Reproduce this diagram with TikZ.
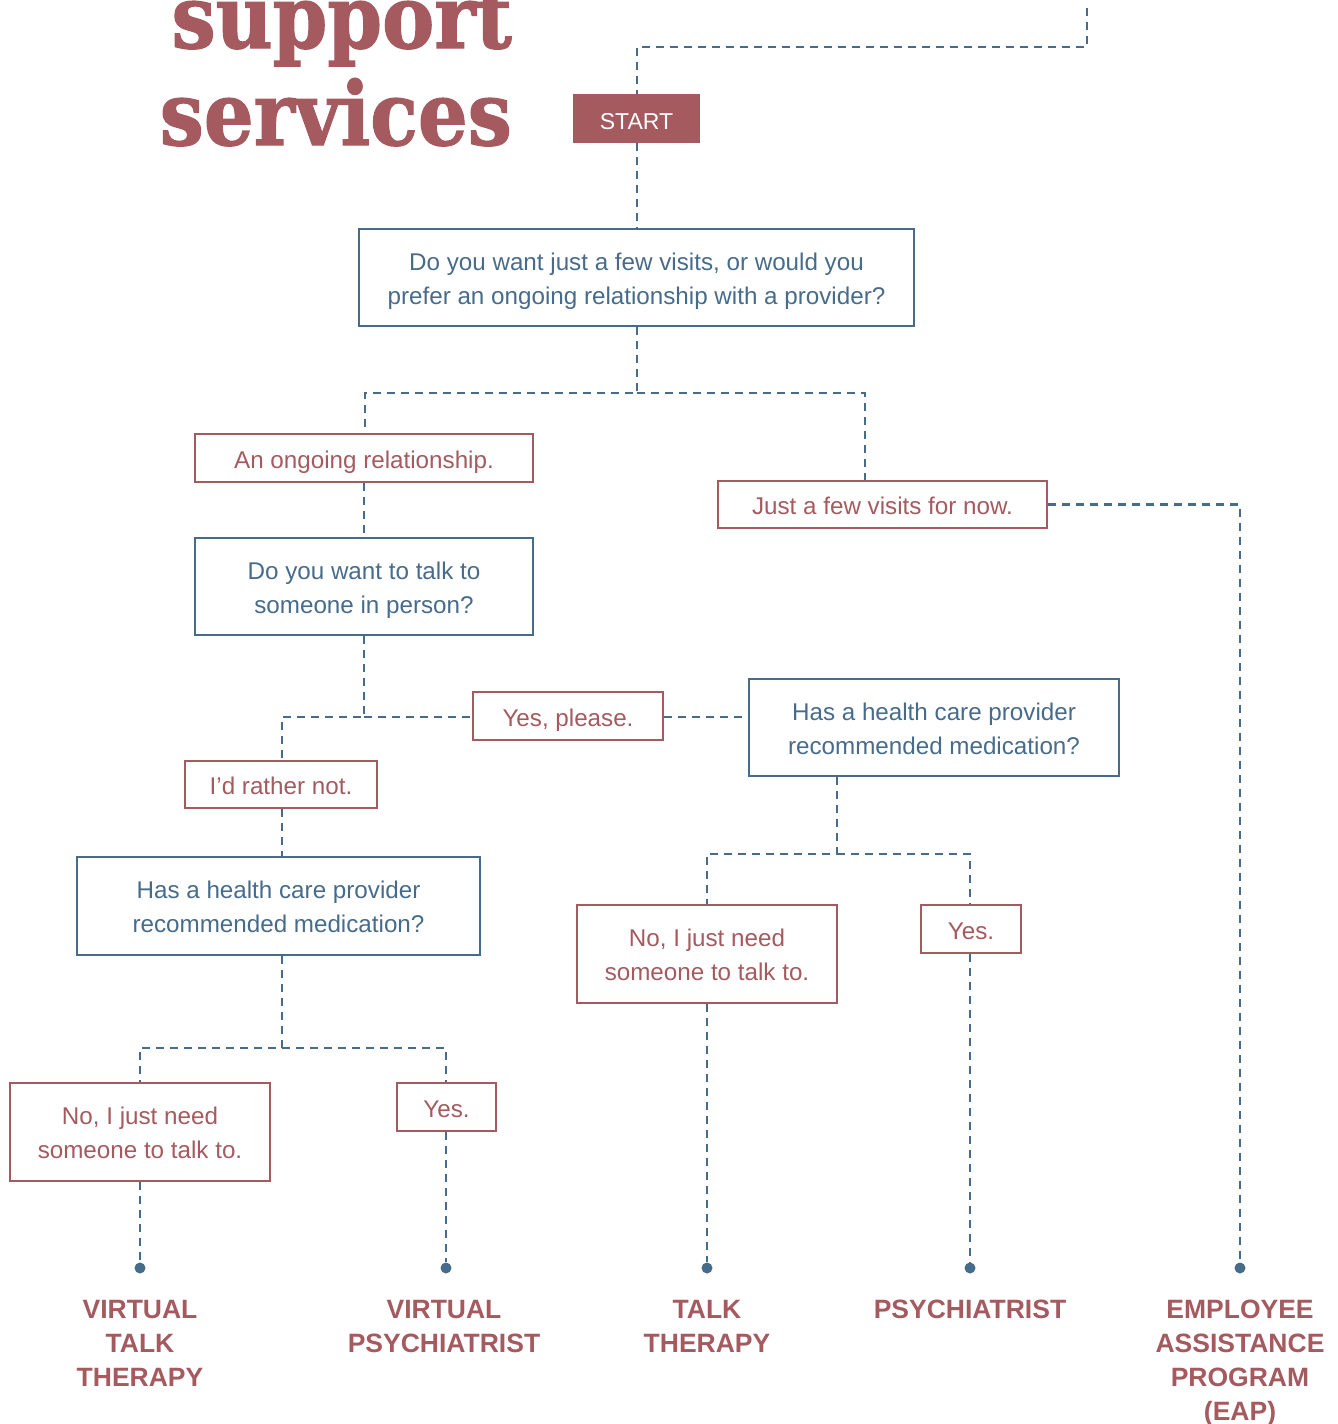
\documentclass[tikz,border=0pt]{standalone}
\usepackage{fontspec}
\setmainfont{Liberation Sans}
\newfontfamily\slabfont[BoldFeatures={FakeBold=1.5}]{DejaVu Serif}
\definecolor{rose}{HTML}{A45A5E}
\definecolor{slate}{HTML}{476B8A}
\tikzset{
  oneline/.style={text height=20pt, text depth=0pt},
  twoline/.style={text height=55pt, text depth=2pt},
  qbox/.style={draw=slate, line width=2.5pt, text=slate, align=center, inner sep=0pt,
    font=\fontsize{24.2}{34}\selectfont, twoline},
  abox/.style={draw=rose, line width=2pt, text=rose, align=center, inner sep=0pt,
    font=\fontsize{24.2}{34}\selectfont, oneline},
  link/.style={slate, line width=2.5pt, dash pattern=on 8pt off 6pt},
  dot/.style={circle, fill=slate, inner sep=0pt, minimum size=11pt},
  endlabel/.style={text=rose, align=center, anchor=north, inner sep=0pt,
    font=\bfseries\fontsize{26.5}{34}\selectfont}
}
\begin{document}
\begin{tikzpicture}[x=1pt, y=-1pt]
\useasboundingbox (0,0) rectangle (1338,1424);
% title
\node[anchor=base east, inner sep=0pt, xscale=0.89, text=rose,
  font=\slabfont\bfseries\fontsize{88}{88}\selectfont] (title1) at (512,48) {support};
\node[anchor=base east, inner sep=0pt, xscale=0.89, text=rose,
  font=\slabfont\bfseries\fontsize{88}{88}\selectfont] (title2) at (512,145) {services};
% boxes
\node[fill=rose, text=white, minimum width=127pt, minimum height=49pt, inner sep=0pt,
  text height=22pt, text depth=0pt, font=\fontsize{23}{26}\selectfont] (start) at (636.5,118.5) {START};
\node[qbox, minimum width=555pt, minimum height=97pt] (q1) at (636.5,277.5)
  {Do you want just a few visits, or would you\\prefer an ongoing relationship with a provider?};
\node[abox, minimum width=338pt, minimum height=48pt] (ongoing) at (364,458) {An ongoing relationship.};
\node[abox, minimum width=329pt, minimum height=47pt] (few) at (882.5,504.5) {Just a few visits for now.};
\node[qbox, minimum width=338pt, minimum height=97pt] (q2) at (364,586.5)
  {Do you want to talk to\\someone in person?};
\node[abox, minimum width=190pt, minimum height=48pt] (yesplease) at (568,716) {Yes, please.};
\node[qbox, minimum width=370pt, minimum height=97pt] (q3) at (934,727.5)
  {Has a health care provider\\recommended medication?};
\node[abox, minimum width=192pt, minimum height=47pt] (rather) at (281,784.5) {I’d rather not.};
\node[qbox, minimum width=403pt, minimum height=98pt] (q4) at (278.5,906)
  {Has a health care provider\\recommended medication?};
\node[abox, twoline, minimum width=260pt, minimum height=98pt] (nol) at (140,1132)
  {No, I just need\\someone to talk to.};
\node[abox, minimum width=99pt, minimum height=48pt] (yesl) at (446.5,1107) {Yes.};
\node[abox, twoline, minimum width=260pt, minimum height=98pt] (nor) at (707,954)
  {No, I just need\\someone to talk to.};
\node[abox, minimum width=100pt, minimum height=48pt] (yesr) at (971,929) {Yes.};
% ends
\node[dot] (d1) at (140,1268) {};
\node[dot] (d2) at (446,1268) {};
\node[dot] (d3) at (707,1268) {};
\node[dot] (d4) at (970,1268) {};
\node[dot] (d5) at (1240,1268) {};
\node[endlabel] (e1) at (140,1300) {VIRTUAL\\TALK\\THERAPY};
\node[endlabel] (e2) at (444,1300) {VIRTUAL\\PSYCHIATRIST};
\node[endlabel] (e3) at (707,1300) {TALK\\THERAPY};
\node[endlabel] (e4) at (970,1300) {PSYCHIATRIST};
\node[endlabel] (e5) at (1240,1300) {EMPLOYEE\\ASSISTANCE\\PROGRAM\\(EAP)};
% connectors
\coordinate (top) at (1087,8);
\draw[link] (top) |- (637,47) -- (start.north -| 637,0);
\draw[link] (start.south -| 637,0) -- (q1.north -| 637,0);
\coordinate (j1) at (637,393);
\draw[link] (q1.south -| 637,0) -- (j1) -| (ongoing.north -| 365,0);
\draw[link] (j1) -| (few.north -| 865,0);
\draw[link] (few.east) -| (d5);
\draw[link] (ongoing) -- (q2);
\coordinate (j2) at (364,717);
\draw[link] (q2.south) -- (j2) -| (rather.north -| 282,0);
\draw[link] (j2) -- (yesplease.west |- j2);
\draw[link] (yesplease.east |- j2) -- (q3.west |- j2);
\draw[link] (rather.south -| 282,0) -- (q4.north -| 282,0);
\coordinate (j3) at (282,1048);
\draw[link] (q4.south -| 282,0) -- (j3) -| (nol.north);
\draw[link] (j3) -| (yesl.north -| 446,0);
\draw[link] (nol) -- (d1);
\draw[link] (yesl.south -| 446,0) -- (d2);
\coordinate (j4) at (837,854);
\draw[link] (q3.south -| 837,0) -- (j4) -| (nor.north);
\draw[link] (j4) -| (yesr.north -| 970,0);
\draw[link] (nor) -- (d3);
\draw[link] (yesr.south -| 970,0) -- (d4);
\end{tikzpicture}
\end{document}
